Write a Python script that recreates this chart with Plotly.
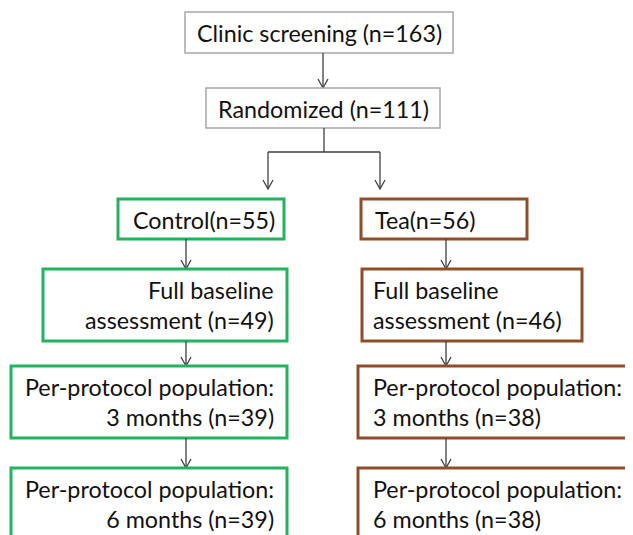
import plotly.graph_objects as go

# ---- data ----
screened_n = 163
randomized_n = 111
arm_names = ["Control", "Tea"]
control_n = [55, 49, 39, 39]
tea_n = [56, 46, 38, 38]
stage_labels = ["Full baseline<br>assessment", "Per-protocol population:<br>3 months", "Per-protocol population:<br>6 months"]

# ---- layout constants (pixels) ----
W, H = 633, 535
OFF = 8  # page body margin compensation
FONT = "Lato"
FS = 23.3
GRAY = "#A6A6A6"
LINE = "#3F3F3F"
GREEN = "#22B35E"
BROWN = "#8F4E2B"

fig = go.Figure()
shapes = []
annos = []

def box(x0, x1, y0, y1, color, width):
    shapes.append(dict(type="rect", x0=x0, x1=x1, y0=y0, y1=y1, xref="x", yref="y",
                       line=dict(color=color, width=width), fillcolor="white", layer="above"))

def text(x, y, s, anchor="center", align="center"):
    annos.append(dict(x=x, y=y, xref="x", yref="y", text=s, showarrow=False,
                      xanchor=anchor, yanchor="middle", align=align,
                      font=dict(family=FONT, size=FS, color="#111111")))

def seg(x0, y0, x1, y1):
    shapes.append(dict(type="line", x0=x0, y0=y0, x1=x1, y1=y1, xref="x", yref="y",
                       line=dict(color=LINE, width=1.3)))

def arrow(x, y0, y1):
    seg(x, y0, x, y1)
    shapes.append(dict(type="path", path=f"M {x-5},{y1-9} L {x},{y1} L {x+5},{y1-9}",
                       xref="x", yref="y", line=dict(color=LINE, width=1.3)))

# top boxes
box(185, 453, 12, 53, GRAY, 1.5)
text(319, 33, f"Clinic screening (n={screened_n})")
arrow(323, 53, 88)
box(206, 440, 88, 128, GRAY, 1.5)
text(323, 108.5, f"Randomized (n={randomized_n})")

# split
seg(324, 128, 324, 152)
seg(268, 152, 380, 152)
arrow(268, 152, 189)
arrow(380, 152, 189)

# arm boxes
box(118, 284, 199, 239, GREEN, 3)
text(131, 219.5, f"{arm_names[0]}(n={control_n[0]})", anchor="left", align="left")
box(361, 527, 199, 239, BROWN, 3)
text(373, 219.5, f"{arm_names[1]}(n={tea_n[0]})", anchor="left", align="left")

left_boxes = [(43, 287, 269, 341), (11, 287, 366, 438), (11, 287, 468, 545)]
right_boxes = [(362, 582, 269, 341), (358, 640, 366, 438), (358, 640, 468, 545)]
prev_l, prev_r = 239, 239
for i, lab in enumerate(stage_labels):
    lx0, lx1, ly0, ly1 = left_boxes[i]
    rx0, rx1, ry0, ry1 = right_boxes[i]
    arrow(186, prev_l, ly0)
    arrow(446, prev_r, ry0)
    box(lx0, lx1, ly0, ly1, GREEN, 3)
    box(rx0, rx1, ry0, ry1, BROWN, 3)
    text(276, ly0 + 36, f"{lab} (n={control_n[i+1]})", anchor="right", align="right")
    text(371, ry0 + 36, f"{lab} (n={tea_n[i+1]})", anchor="left", align="left")
    prev_l, prev_r = ly1, ry1

fig.update_layout(
    width=W - OFF, height=H - OFF, margin=dict(l=0, r=0, t=0, b=0),
    paper_bgcolor="white", plot_bgcolor="white",
    xaxis=dict(range=[OFF, W], visible=False, fixedrange=True),
    yaxis=dict(range=[H, OFF], visible=False, fixedrange=True),
    shapes=shapes, annotations=annos, showlegend=False,
)
fig.write_html("out.html")
